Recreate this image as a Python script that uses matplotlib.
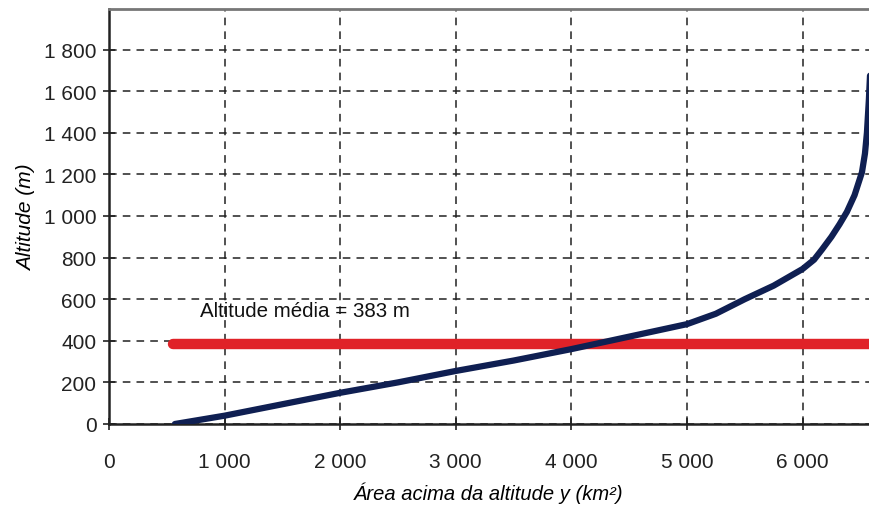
import numpy as np
from matplotlib import pyplot as plt
from matplotlib.ticker import FuncFormatter, MultipleLocator

plt.rcParams['font.family'] = ['Liberation Sans', 'DejaVu Sans']

# curva hipsométrica (área acima da altitude, km² / altitude, m)
area = [570, 1000, 1500, 2000, 2500, 3000, 3500, 4000, 4500, 5000, 5250,
        5500, 5750, 6000, 6100, 6170, 6250, 6320, 6384, 6450, 6514, 6540,
        6557, 6574, 6590]
altitude = [0, 40, 95, 150, 200, 255, 305, 360, 420, 480, 530,
            600, 665, 745, 790, 840, 900, 960, 1020, 1100, 1210, 1300,
            1400, 1560, 1750]

alt_media = 383
media_x = [555, 6700]
texto_media = "Altitude média = 383 m"


def milhar(v, pos):
    return f"{int(v):,}".replace(",", " ")


fig = plt.figure(figsize=(8.69, 5.06), dpi=100)
ax = fig.add_axes([109/869, 1 - 425/506, 760/869, 415/506])

ax.plot(media_x, [alt_media, alt_media], color="#e02228", linewidth=7.5,
        solid_capstyle="round", zorder=3)
ax.plot(area, altitude, color="#0f1f52", linewidth=4.5,
        solid_capstyle="round", solid_joinstyle="round", zorder=4)
ax.text(790, 520, texto_media, fontsize=14.8, color="#111111", zorder=5)

ax.set_xlim(0, 6575)
ax.set_ylim(0, 1995)
ax.xaxis.set_major_locator(MultipleLocator(1000))
ax.yaxis.set_major_locator(MultipleLocator(200))
ax.xaxis.set_major_formatter(FuncFormatter(milhar))
ax.yaxis.set_major_formatter(FuncFormatter(milhar))

ax.grid(True, color="#222222", linestyle=(0, (5, 4)), linewidth=1.1)
ax.set_axisbelow(True)

ax.spines["right"].set_visible(False)
ax.spines["top"].set_color("#777777")
ax.spines["top"].set_linewidth(2)
ax.spines["left"].set_linewidth(1.8)
ax.spines["bottom"].set_linewidth(1.8)
ax.spines["left"].set_color("#222222")
ax.spines["bottom"].set_color("#222222")

ax.tick_params(axis="both", direction="inout", length=8, width=1.2,
               labelsize=15, colors="#222222")
ax.tick_params(axis="x", pad=16)
ax.tick_params(axis="y", pad=5)

ax.set_xlabel("Área acima da altitude y (km²)", fontsize=14.5, style="italic",
              labelpad=8)
ax.set_ylabel("Altitude (m)", fontsize=15, style="italic", labelpad=6)

fig.savefig("out.png", dpi=100)
